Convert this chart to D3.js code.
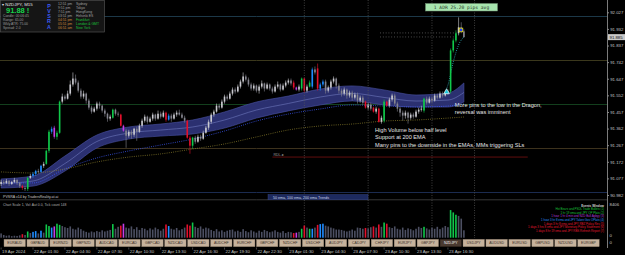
<!DOCTYPE html>
<html>
<head>
<meta charset="utf-8">
<script src="https://cdn.jsdelivr.net/npm/d3@7"></script>
<style>
html, body { margin: 0; padding: 0; background: #000; }
svg { display: block; font-family: "Liberation Sans", Arial, sans-serif; }
</style>
</head>
<body>
<svg id="chart" width="625" height="255"></svg>
<script>
// NZDJPY M15 candles
const opens = [91.045,91.057,91.051,91.063,91.045,91.057,91.068,91.051,91.034,91.022,91.017,91.080,91.091,91.103,91.120,91.114,91.149,91.160,91.235,91.344,
91.367,91.315,91.338,91.516,91.545,91.533,91.562,91.614,91.648,91.625,91.579,91.545,91.562,91.522,91.482,91.459,91.476,91.505,91.493,91.465,
91.447,91.419,91.424,91.470,91.447,91.442,91.378,91.350,91.321,91.344,91.327,91.361,91.344,91.378,91.407,91.430,91.401,91.419,91.442,91.419,
91.447,91.430,91.453,91.413,91.436,91.419,91.442,91.453,91.442,91.424,91.407,91.310,91.264,91.310,91.287,91.315,91.304,91.338,91.367,91.401,
91.442,91.459,91.493,91.482,91.516,91.545,91.533,91.562,91.585,91.574,91.602,91.631,91.660,91.642,91.614,91.591,91.608,91.579,91.602,91.620,
91.591,91.614,91.591,91.574,91.602,91.614,91.585,91.608,91.625,91.637,91.625,91.597,91.585,91.591,91.648,91.579,91.602,91.602,91.700,91.706,
91.591,91.614,91.631,91.579,91.597,91.631,91.648,91.608,91.579,91.562,91.585,91.551,91.568,91.539,91.556,91.522,91.539,91.516,91.482,91.499,
91.482,91.459,91.476,91.401,91.407,91.516,91.493,91.528,91.551,91.505,91.476,91.453,91.436,91.453,91.424,91.442,91.430,91.459,91.470,91.465,
91.533,91.510,91.533,91.522,91.551,91.539,91.562,91.551,91.568,91.574,91.809,91.866,91.907,91.941,91.918];
const highs = [91.068,91.068,91.074,91.068,91.063,91.080,91.074,91.057,91.040,91.034,91.086,91.103,91.114,91.126,91.132,91.155,91.172,91.241,91.355,91.373,
91.378,91.350,91.522,91.562,91.556,91.579,91.637,91.683,91.671,91.637,91.591,91.579,91.568,91.533,91.493,91.487,91.516,91.516,91.499,91.476,
91.453,91.442,91.476,91.476,91.459,91.447,91.384,91.361,91.355,91.355,91.367,91.373,91.390,91.419,91.442,91.436,91.430,91.453,91.447,91.465,
91.459,91.465,91.459,91.447,91.447,91.453,91.465,91.470,91.453,91.436,91.413,91.321,91.315,91.321,91.327,91.327,91.350,91.378,91.413,91.453,
91.470,91.505,91.505,91.528,91.556,91.556,91.574,91.597,91.597,91.614,91.642,91.683,91.671,91.654,91.625,91.620,91.614,91.614,91.637,91.625,
91.625,91.620,91.602,91.614,91.631,91.620,91.620,91.637,91.648,91.648,91.637,91.602,91.614,91.654,91.654,91.614,91.637,91.711,91.717,91.734,
91.625,91.642,91.642,91.608,91.642,91.660,91.654,91.620,91.591,91.597,91.591,91.579,91.579,91.568,91.568,91.551,91.551,91.522,91.510,91.510,
91.487,91.487,91.482,91.436,91.528,91.522,91.539,91.562,91.562,91.516,91.487,91.465,91.465,91.459,91.453,91.453,91.470,91.482,91.493,91.539,
91.545,91.545,91.545,91.562,91.562,91.574,91.574,91.579,91.585,91.820,91.878,91.924,91.998,91.970,91.929];
const lows = [91.034,91.040,91.045,91.034,91.040,91.051,91.040,91.022,91.011,91.005,91.005,91.074,91.080,91.091,91.103,91.109,91.137,91.155,91.223,91.332,
91.304,91.298,91.332,91.505,91.522,91.528,91.551,91.602,91.614,91.568,91.533,91.533,91.505,91.470,91.447,91.453,91.465,91.476,91.453,91.430,
91.401,91.407,91.419,91.436,91.430,91.373,91.344,91.252,91.310,91.304,91.315,91.292,91.338,91.367,91.396,91.390,91.396,91.407,91.407,91.413,
91.419,91.424,91.401,91.407,91.401,91.413,91.430,91.436,91.419,91.396,91.304,91.218,91.246,91.275,91.281,91.292,91.298,91.332,91.355,91.390,
91.430,91.453,91.470,91.476,91.505,91.522,91.528,91.551,91.562,91.568,91.591,91.620,91.631,91.602,91.579,91.579,91.568,91.562,91.591,91.574,
91.585,91.579,91.562,91.568,91.591,91.574,91.579,91.597,91.614,91.608,91.585,91.579,91.574,91.579,91.568,91.568,91.597,91.591,91.671,91.579,
91.579,91.602,91.562,91.568,91.585,91.620,91.591,91.562,91.545,91.551,91.533,91.539,91.522,91.528,91.505,91.510,91.499,91.476,91.470,91.465,
91.453,91.447,91.396,91.390,91.396,91.487,91.482,91.516,91.493,91.459,91.430,91.407,91.419,91.390,91.413,91.419,91.424,91.447,91.459,91.453,
91.499,91.505,91.510,91.516,91.528,91.533,91.539,91.545,91.556,91.562,91.797,91.855,91.895,91.907,91.884];
const closes = [91.057,91.051,91.063,91.045,91.057,91.068,91.051,91.034,91.022,91.017,91.080,91.091,91.103,91.120,91.114,91.149,91.160,91.235,91.344,91.361,
91.315,91.338,91.516,91.545,91.533,91.562,91.614,91.648,91.625,91.579,91.545,91.562,91.522,91.482,91.459,91.476,91.505,91.493,91.465,91.447,
91.419,91.430,91.470,91.447,91.442,91.378,91.350,91.321,91.344,91.327,91.361,91.344,91.378,91.407,91.430,91.401,91.419,91.442,91.419,91.447,
91.430,91.453,91.413,91.436,91.419,91.442,91.453,91.442,91.424,91.407,91.310,91.264,91.310,91.287,91.315,91.304,91.338,91.367,91.401,91.442,
91.459,91.493,91.482,91.516,91.545,91.533,91.562,91.585,91.574,91.602,91.631,91.660,91.642,91.614,91.591,91.608,91.579,91.602,91.620,91.591,
91.614,91.591,91.574,91.602,91.614,91.585,91.608,91.625,91.637,91.620,91.597,91.585,91.602,91.648,91.579,91.602,91.625,91.700,91.683,91.591,
91.614,91.631,91.579,91.597,91.631,91.648,91.608,91.579,91.562,91.585,91.551,91.568,91.539,91.556,91.522,91.539,91.510,91.482,91.499,91.476,
91.459,91.476,91.401,91.424,91.516,91.493,91.528,91.551,91.505,91.476,91.453,91.436,91.453,91.424,91.442,91.430,91.459,91.470,91.476,91.533,
91.510,91.533,91.522,91.551,91.539,91.562,91.551,91.568,91.574,91.809,91.866,91.907,91.941,91.918,91.885];
const volumes = [1100,700,500,600,400,500,450,600,900,700,1600,1200,1500,1700,1100,1800,1300,3400,3000,2600,
2900,3600,3300,3000,2700,2500,2900,2300,2100,2600,2200,1800,1500,1300,1600,1400,1700,1500,1900,1600,
1800,2000,3500,2300,2800,3100,3600,2600,2400,2900,2200,2700,2000,2500,2300,1900,2400,2100,2600,2200,
1800,2300,3400,3000,2300,2100,2500,1900,2200,2600,3400,3100,3900,2800,2500,2900,2300,2600,2400,2000,
1700,2200,1600,1900,1500,1800,2000,2100,1600,1800,1500,2200,1700,1400,1900,1600,1300,1800,1500,2000,
1700,1400,1600,1900,1500,1300,1700,1200,1500,1400,1200,1300,1500,2300,3100,2600,2300,2300,2600,3300,
3500,3600,3100,2900,2600,2400,2100,2100,2000,1800,1600,1800,2100,1800,2600,2500,2300,2500,2400,2700,
2900,2600,3400,2800,3900,3600,2700,2500,2900,2300,2100,2600,2000,2400,2200,1900,2300,2800,2500,2800,
2400,2100,2600,2300,2800,2200,2600,3000,2700,7100,6500,5900,5600,4900,1900];

// PVSRA coloured bars (bar indices)
const greenBars = [10,17,18,21,22,42,72,113,116,144,159,169,170,171];
const redBars = [8,45,62,70,71,110,114,119,137,140,142,145];
const blueBars = [12,13,15,19,63,117,120,121];
const magentaBars = [20,46,111];

// indicator lines
const emaIdx = [0,12,24,36,48,60,72,84,96,108,120,132,144,156,168,174];
const dragonHigh = [91.074,91.091,91.205,91.325,91.371,91.388,91.411,91.457,91.514,91.548,91.588,91.606,91.583,91.554,91.565,91.623];
const dragonLow = [91.022,91.033,91.119,91.251,91.302,91.319,91.331,91.365,91.422,91.463,91.497,91.520,91.497,91.485,91.485,91.514];
const ema100 = [91.051,91.051,91.131,91.194,91.234,91.268,91.302,91.348,91.405,91.445,91.474,91.497,91.491,91.485,91.491,91.503];
const ema200 = [91.114,91.108,91.131,91.171,91.199,91.217,91.245,91.274,91.314,91.354,91.377,91.388,91.405,91.411,91.422,91.428];
const fastIdx = [166,168,170,172,174];
const fastEma = [91.554,91.611,91.743,91.840,91.886];

const levels = [92.006,91.754,91.503,91.251,90.999];
const levelColors = ['#1c3848','#3b381c','#133f1d','#3d321d','#1b2b50'];
const priceTicks = [92.027,91.932,91.837,91.742,91.647,91.552,91.457,91.362,91.267,91.172,91.077,90.982];
const lastPrice = 91.885;
const sessionIdx = [114,138,162,178];

const timeIdx = [0,12,24,36,48,60,72,84,96,108,120,132,144,156,168];
const timeLabels = ['19 Apr 2024','22 Apr 01:30','22 Apr 04:30','22 Apr 07:30','22 Apr 10:30','22 Apr 13:30','22 Apr 16:30',
  '22 Apr 19:30','22 Apr 22:30','23 Apr 01:30','23 Apr 04:30','23 Apr 07:30','23 Apr 10:30','23 Apr 13:30','23 Apr 16:30'];
const tabs = ['EURAUD','GBPAUD','EURNZD','GBPNZD','AUDCAD','EURCAD','GBPCAD','NZDCAD','USDCAD','AUDCHF','EURCHF','GBPCHF','NZDCHF',
  'USDCHF','AUDJPY','CADJPY','CHFJPY','EURJPY','GBPJPY','NZDJPY','USDJPY','AUDUSD','EURUSD','GBPUSD','NZDUSD','EURGBP'];
const activeTab = 'NZDJPY';

const notes = [
  {i: 170.6, p: 91.485, lines: ['More pins to the low in the Dragon,', 'reversal was imminent']},
  {i: 140.6, p: 91.342, lines: ['High Volume below half level', 'Support at 200 EMA', 'Many pins to the downside in the EMAs, MMs triggering SLs']}
];
const legendRows = [
  ['Events Window', '#d0d0d0'],
  ['Hst Bears and PSDL Trade Bullets  (1)', '#19c23a'],
  ['1 hr 19 ema and JPY OP Plats  (2)', '#19c23a'],
  ['1 hour 1 hr 4 min and NZD Bull Agbyy  (3)', '#b03ad8'],
  ['1 hour 3 hr 8 ema and JPY Taken Gov OPlats  (4)', '#2c8cf0'],
  ['1 days 3 hr 8 ema and JPY RBZ Policy Rev  (5)', '#e01830'],
  ['1 days 3 hrs 8 ema and JPY Monetary Policy Statement  (6)', '#e01830'],
  ['1 days 8 hr 19 ema and JPY RBS Refresh Report  (7)', '#e01830']
];

const svg = d3.select('#chart');
const axisX = 607.5;
const x = d3.scaleLinear().domain([0, 174]).range([1.1, 463.9]);
const y = d3.scaleLinear().domain([90.982, 92.027]).range([195, 12.3]);
const yv = d3.scaleLinear().domain([0, 8406]).range([237.7, 205]);

const colorOf = (i) => {
  if (greenBars.includes(i)) return '#10c84a';
  if (redBars.includes(i)) return '#e3102c';
  if (blueBars.includes(i)) return '#1f8cff';
  if (magentaBars.includes(i)) return '#c43ee8';
  return null;
};
const bars = opens.map((o, i) => ({i, o, h: highs[i], l: lows[i], c: closes[i], v: volumes[i], col: colorOf(i)}));

svg.append('rect').attr('width', 625).attr('height', 255).attr('fill', '#000');

svg.append('clipPath').attr('id', 'mainClip').append('rect').attr('x', 0).attr('y', 0).attr('width', axisX).attr('height', 199.5);
const main = svg.append('g').attr('clip-path', 'url(#mainClip)');

// level lines
main.selectAll('line.lvl').data(levels).join('line')
  .attr('x1', 0).attr('x2', axisX).attr('y1', d => Math.round(y(d)) + 0.5).attr('y2', d => Math.round(y(d)) + 0.5)
  .attr('stroke', (d, k) => levelColors[k]).attr('stroke-width', 1);

// session separators
svg.selectAll('line.sess').data(sessionIdx).join('line')
  .attr('x1', d => x(d)).attr('x2', d => x(d)).attr('y1', 0).attr('y2', 238)
  .attr('stroke', '#5a5a5a').attr('stroke-width', 0.7).attr('stroke-dasharray', '1,1.5');

// dragon band
const band = emaIdx.map((i, k) => ({i, hi: dragonHigh[k], lo: dragonLow[k], mid: (dragonHigh[k] + dragonLow[k]) / 2}));
main.append('path').datum(band)
  .attr('d', d3.area().x(d => x(d.i)).y0(d => y(d.lo)).y1(d => y(d.hi)).curve(d3.curveMonotoneX))
  .attr('fill', '#2b3070').attr('stroke', '#4a53a6').attr('stroke-width', 0.6);
main.append('path').datum(band)
  .attr('d', d3.line().x(d => x(d.i)).y(d => y(d.mid)).curve(d3.curveMonotoneX))
  .attr('fill', 'none').attr('stroke', '#6f78bd').attr('stroke-width', 0.6);

const dotted = (vals, idx, color) => main.append('path')
  .datum(idx.map((i, k) => [i, vals[k]]))
  .attr('d', d3.line().x(d => x(d[0])).y(d => y(d[1])).curve(d3.curveMonotoneX))
  .attr('fill', 'none').attr('stroke', color).attr('stroke-width', 0.8).attr('stroke-dasharray', '0.9,1.3');
dotted(ema100, emaIdx, '#3f5cff');
dotted(ema200, emaIdx, '#8c7f2c');
dotted(fastEma, fastIdx, '#36c8d8');

// current bid/ask dotted lines
[91.909, 91.886].forEach(p => {
  main.append('line').attr('x1', x(142.5)).attr('x2', x(171.4)).attr('y1', y(p)).attr('y2', y(p))
    .attr('stroke', '#9a9a9a').attr('stroke-width', 0.6).attr('stroke-dasharray', '0.8,2');
});

// RDL line
main.append('line').attr('x1', x(102)).attr('x2', x(198)).attr('y1', y(91.199)).attr('y2', y(91.199))
  .attr('stroke', '#7a1212').attr('stroke-width', 0.8);
main.append('text').attr('x', x(102) + 1).attr('y', y(91.199) - 1).text('RDL-\u25B8')
  .attr('fill', '#9a9a9a').attr('font-size', 3.6);

// candles
const cg = main.append('g');
cg.selectAll('line').data(bars).join('line')
  .attr('x1', d => x(d.i)).attr('x2', d => x(d.i)).attr('y1', d => y(d.h)).attr('y2', d => y(d.l))
  .attr('stroke', d => d.col || (d.c >= d.o ? '#c9c9cf' : '#85858f')).attr('stroke-width', 0.6);
cg.selectAll('rect').data(bars).join('rect')
  .attr('x', d => x(d.i) - 0.8).attr('width', 1.6)
  .attr('y', d => y(Math.max(d.o, d.c)))
  .attr('height', d => Math.max(0.6, Math.abs(y(d.o) - y(d.c))))
  .attr('fill', d => d.col || (d.c >= d.o ? '#c9c9cf' : '#85858f'));

// markers
main.append('path').attr('d', d3.symbol(d3.symbolTriangle, 14)())
  .attr('transform', `translate(${x(167.5)},${y(91.571)})`)
  .attr('fill', '#1ec8dc').attr('stroke', '#fff').attr('stroke-width', 0.6);
main.append('rect').attr('x', x(172.9) - 1.8).attr('y', y(91.926) - 1.8).attr('width', 3.6).attr('height', 3.6)
  .attr('fill', '#1a3cff').attr('stroke', '#f0e000').attr('stroke-width', 0.8);

// annotations
notes.forEach(n => {
  const t = main.append('text').attr('x', x(n.i)).attr('y', y(n.p)).attr('fill', '#e6e6e6').attr('font-size', 5.6);
  n.lines.forEach((s, k) => t.append('tspan').attr('x', x(n.i)).attr('dy', k ? 7.4 : 0).text(s));
});

// ATR box
svg.append('rect').attr('x', 425.5).attr('y', 3.5).attr('width', 72).attr('height', 7.5)
  .attr('fill', '#a7e4ae').attr('stroke', '#6f8f72').attr('stroke-width', 0.5);
svg.append('text').attr('x', 461.5).attr('y', 9.2).attr('text-anchor', 'middle').attr('fill', '#2a3a2a')
  .attr('font-size', 4.6).attr('font-family', '"DejaVu Sans Mono", monospace').text('1 ADR 25.20 pips avg');

// info panel
const info = svg.append('g');
info.append('rect').attr('x', 0.5).attr('y', 0.5).attr('width', 104).attr('height', 31.5)
  .attr('fill', '#151515').attr('stroke', '#5a5a5a').attr('stroke-width', 0.6);
info.append('text').attr('x', 2).attr('y', 6).attr('fill', '#e0e0e0').attr('font-size', 4.4).text('\u25BE NZDJPY, M15');
info.append('text').attr('x', 6).attr('y', 13).attr('fill', '#18d24a').attr('font-size', 7.5).attr('font-weight', 'bold').text('91.88 !');
['Candle: 00:06:45', 'Range: 65.00', 'Wkly ATR: 75.00', 'Spread: 2.0'].forEach((s, k) =>
  info.append('text').attr('x', 3).attr('y', 16.5 + k * 4.1).attr('fill', '#9a9a9a').attr('font-size', 3.4).text(s));
'PVSRA'.split('').forEach((s, k) =>
  info.append('text').attr('x', 49).attr('y', 7.5 + k * 5.3).attr('fill', '#3c5cf0').attr('font-size', 5.4).attr('font-weight', 'bold').attr('text-anchor', 'middle').text(s));
const times = ['12:51 pm', '9:51 pm', '7:51 pm', '03:51 pm', '04:51 pm', '05:51 pm', '06:51 am'];
const timeCol = ['#a0a0a0', '#a0a0a0', '#a0a0a0', '#a0a0a0', '#d08a3a', '#d08a3a', '#d08a3a'];
const cities = ['Sydney', 'Tokyo', 'HongKong', 'Helsinki ES', 'Frankfurt', 'London & GMT', 'New York'];
const cityCol = ['#a0a0a0', '#a0a0a0', '#a0a0a0', '#a0a0a0', '#19c23a', '#19c23a', '#19c23a'];
times.forEach((s, k) => {
  info.append('text').attr('x', 58).attr('y', 4.5 + k * 4.1).attr('fill', timeCol[k]).attr('font-size', 3.4).text(s);
  info.append('text').attr('x', 76).attr('y', 4.5 + k * 4.1).attr('fill', cityCol[k]).attr('font-size', 3.4).text(cities[k]);
});

// panel separator & headers
svg.append('line').attr('x1', 0).attr('x2', axisX).attr('y1', 199.8).attr('y2', 199.8).attr('stroke', '#5c5c5c').attr('stroke-width', 0.6);
svg.append('text').attr('x', 3).attr('y', 198).attr('fill', '#c8c8c8').attr('font-size', 3.6).text('PVSRA v14 by TradersReality.at.ai');
svg.append('rect').attr('x', 268).attr('y', 194.5).attr('width', 100).attr('height', 5.3)
  .attr('fill', '#1d2a5e').attr('stroke', '#3d4c8a').attr('stroke-width', 0.4);
svg.append('text').attr('x', 273).attr('y', 198.6).attr('fill', '#d0d4e8').attr('font-size', 3.6).text('50 ema, 100 ema, 200 ema Trends');
svg.append('text').attr('x', 3).attr('y', 205.5).attr('fill', '#b0b0b0').attr('font-size', 3.4).text('Chart Scale 1, Vol: Aut 0.0, Tick count 148');

// volume bars
svg.append('g').selectAll('rect').data(bars).join('rect')
  .attr('x', d => x(d.i) - 0.8).attr('width', 1.6)
  .attr('y', d => yv(d.v)).attr('height', d => yv(0) - yv(d.v))
  .attr('fill', d => d.col || '#4c4f62');

// legend
legendRows.forEach((r, k) => {
  svg.append('text').attr('x', 604).attr('y', 206.5 + k * 3.6).attr('text-anchor', 'end')
    .attr('fill', r[1]).attr('font-size', k ? 2.9 : 3.1).attr('font-weight', k ? 'normal' : 'bold').text(r[0]);
});

// right price axis
const ax = svg.append('g').attr('transform', `translate(${axisX},0)`)
  .call(d3.axisRight(y).tickValues(priceTicks).tickFormat(d3.format('.3f')).tickSize(1.5).tickPadding(1.2));
ax.select('.domain').remove();
ax.selectAll('line').attr('stroke', '#888');
ax.selectAll('text').attr('fill', '#c4c4c4').attr('font-size', 4.3).attr('font-family', '"Liberation Sans", Arial, sans-serif');
svg.append('line').attr('x1', axisX).attr('x2', axisX).attr('y1', 0).attr('y2', 248).attr('stroke', '#9a9a9a').attr('stroke-width', 0.8);
svg.append('rect').attr('x', axisX + 0.5).attr('y', y(lastPrice) - 3).attr('width', 17).attr('height', 6).attr('fill', '#c8c8c8');
svg.append('text').attr('x', axisX + 2).attr('y', y(lastPrice) + 1.6).attr('fill', '#111').attr('font-size', 4.3).text(d3.format('.3f')(lastPrice));
// volume axis labels
[[8406, 205.5], [0, 236.5]].forEach(([v, py]) =>
  svg.append('text').attr('x', axisX + 2).attr('y', py).attr('fill', '#c4c4c4').attr('font-size', 4.3).text(v));
svg.append('text').attr('x', axisX + 2).attr('y', 244).attr('fill', '#c4c4c4').attr('font-size', 4.3).text('0');

// symbol tabs
const tabW = 22.95;
const tg = svg.append('g');
tabs.forEach((s, k) => {
  const on = s === activeTab;
  tg.append('rect').attr('x', 4 + k * tabW).attr('y', 239.3).attr('width', tabW - 1.5).attr('height', 7.4)
    .attr('fill', on ? '#4a3a30' : '#c6b29c').attr('stroke', on ? '#2a1e18' : '#8c7a68').attr('stroke-width', 0.4);
  tg.append('text').attr('x', 4 + k * tabW + (tabW - 1.5) / 2).attr('y', 244.4).attr('text-anchor', 'middle')
    .attr('fill', on ? '#f0f0f0' : '#3a3028').attr('font-size', 3.5).text(s);
});

// time axis
timeIdx.forEach((i, k) => {
  svg.append('line').attr('x1', x(i)).attr('x2', x(i)).attr('y1', 247.5).attr('y2', 249.5).attr('stroke', '#888').attr('stroke-width', 0.5);
  svg.append('text').attr('x', x(i) + 1).attr('y', 252.6).attr('fill', '#c4c4c4').attr('font-size', 4.3).text(timeLabels[k]);
});
</script>
</body>
</html>
